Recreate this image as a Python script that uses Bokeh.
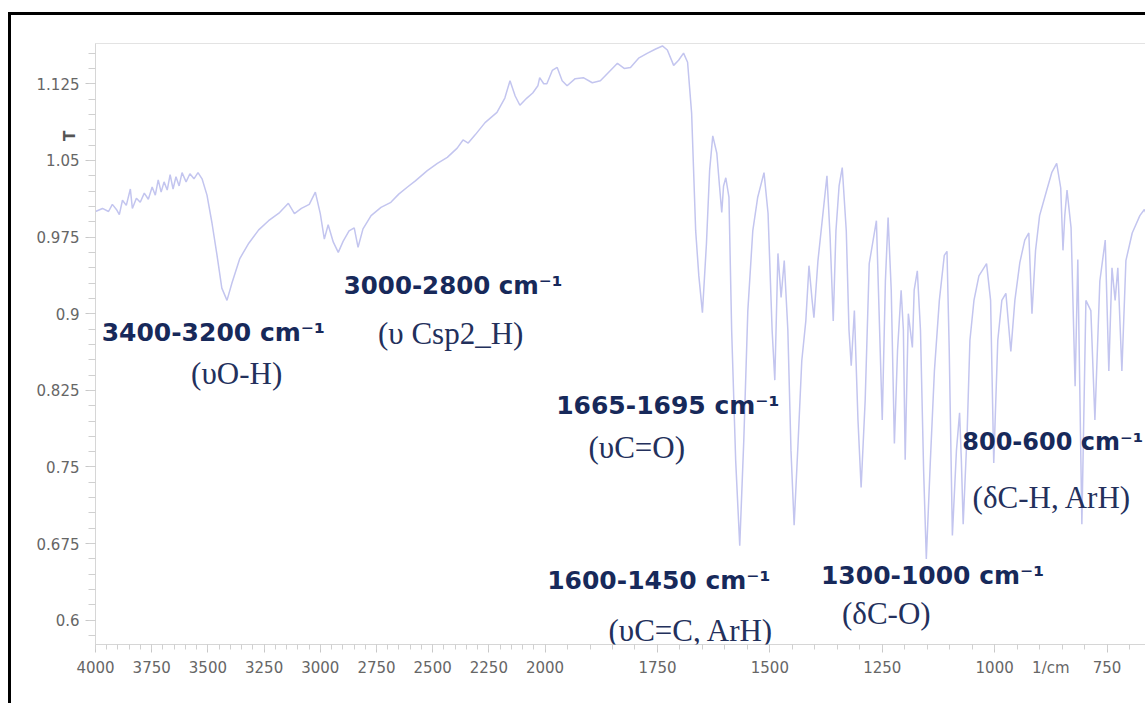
import numpy as np
from bokeh.plotting import figure
from bokeh.models import FixedTicker, Label, CustomJSTickFormatter, LinearAxis
from bokeh.embed import file_html
from bokeh.resources import INLINE

# FT-IR spectrum: wavenumber (cm-1) and transmittance T
wn_high = [4000, 3969, 3942, 3925, 3907, 3894, 3880, 3863, 3845, 3836,
           3818, 3801, 3783, 3765, 3748, 3734, 3721, 3708, 3695, 3681,
           3668, 3655, 3642, 3628, 3615, 3597, 3580, 3562, 3544, 3526,
           3504, 3482, 3460, 3438, 3415, 3393, 3358, 3318, 3274, 3230,
           3181, 3142, 3115, 3084, 3049, 3022, 3000, 2982, 2965, 2942,
           2920, 2898, 2872, 2849, 2832, 2810, 2774, 2730, 2686, 2651,
           2612, 2577, 2524, 2479, 2435, 2391, 2365, 2342, 2311, 2267,
           2214, 2179, 2156, 2133, 2112, 2081, 2055, 2032, 2024, 2006]
t_high = [1.000, 1.003, 1.000, 1.007, 1.002, 0.997, 1.011, 1.006, 1.022, 1.003,
          1.013, 1.009, 1.018, 1.012, 1.024, 1.016, 1.031, 1.019, 1.029, 1.021,
          1.036, 1.022, 1.034, 1.025, 1.038, 1.029, 1.037, 1.032, 1.038, 1.032,
          1.016, 0.989, 0.958, 0.925, 0.913, 0.930, 0.954, 0.969, 0.982, 0.991,
          0.999, 1.008, 0.998, 1.003, 1.007, 1.019, 0.998, 0.973, 0.987, 0.970,
          0.960, 0.971, 0.981, 0.984, 0.965, 0.983, 0.996, 1.004, 1.009, 1.017,
          1.024, 1.030, 1.040, 1.047, 1.053, 1.062, 1.070, 1.067, 1.075, 1.087,
          1.097, 1.111, 1.128, 1.113, 1.104, 1.111, 1.116, 1.123, 1.131, 1.125]

wn_low = [1996, 1984, 1973, 1962, 1951, 1933, 1915, 1895, 1877, 1859,
          1839, 1824, 1810, 1792, 1772, 1754, 1739, 1728, 1714, 1703,
          1692, 1683, 1674, 1665, 1658, 1650, 1641, 1634, 1627, 1618,
          1612, 1607, 1603, 1598, 1591, 1585, 1576, 1567, 1558, 1549,
          1538, 1527, 1513, 1504, 1495, 1489, 1482, 1475, 1468, 1460,
          1453, 1446, 1437, 1429, 1420, 1413, 1406, 1402, 1393, 1386,
          1373, 1366, 1359, 1353, 1346, 1339, 1330, 1324, 1319, 1312,
          1304, 1297, 1288, 1279, 1263, 1250, 1243, 1237, 1230, 1223,
          1216, 1208, 1203, 1199, 1192, 1183, 1179, 1172, 1165, 1158,
          1152, 1143, 1134, 1123, 1112, 1106, 1101, 1094, 1085, 1078,
          1074, 1070, 1061, 1055, 1046, 1035, 1018, 1009, 1002, 993,
          984, 975, 964, 955, 944, 933, 924, 917, 909, 900,
          884, 873, 862, 853, 848, 844, 839, 830, 821, 815,
          806, 797, 786, 777, 766, 754, 746, 739, 732, 726,
          717, 708, 694, 677, 667, 658]
t_low = [1.125, 1.138, 1.141, 1.128, 1.123, 1.130, 1.131, 1.126, 1.128, 1.136,
         1.145, 1.140, 1.141, 1.150, 1.155, 1.159, 1.162, 1.158, 1.143, 1.148,
         1.155, 1.146, 1.096, 0.981, 0.937, 0.901, 0.969, 1.040, 1.074, 1.057,
         1.025, 0.999, 1.025, 1.033, 1.014, 0.884, 0.756, 0.673, 0.776, 0.903,
         0.981, 1.014, 1.038, 0.998, 0.884, 0.835, 0.959, 0.916, 0.952, 0.884,
         0.766, 0.693, 0.776, 0.854, 0.893, 0.947, 0.913, 0.896, 0.952, 0.981,
         1.035, 0.975, 0.893, 0.981, 1.025, 1.043, 0.981, 0.884, 0.849, 0.903,
         0.796, 0.730, 0.815, 0.949, 0.991, 0.796, 0.932, 0.994, 0.923, 0.773,
         0.864, 0.923, 0.884, 0.757, 0.900, 0.867, 0.923, 0.942, 0.884, 0.747,
         0.660, 0.756, 0.844, 0.913, 0.957, 0.961, 0.864, 0.683, 0.766, 0.803,
         0.756, 0.694, 0.786, 0.874, 0.913, 0.937, 0.949, 0.913, 0.754, 0.874,
         0.913, 0.920, 0.863, 0.913, 0.950, 0.972, 0.979, 0.900, 0.962, 0.996,
         1.021, 1.038, 1.047, 1.023, 0.962, 0.996, 1.021, 0.984, 0.829, 0.953,
         0.694, 0.913, 0.903, 0.796, 0.932, 0.972, 0.844, 0.945, 0.913, 0.945,
         0.844, 0.952, 0.979, 0.996, 1.002, 0.993]

# Axis ticks
x_major_wn = [4000, 3750, 3500, 3250, 3000, 2750, 2500, 2250, 2000,
              1750, 1500, 1250, 1000, 750]
x_minor_wn = list(range(4000, 649, -50))
y_major = [0.6, 0.675, 0.75, 0.825, 0.9, 0.975, 1.05, 1.125]
y_minor = [round(0.585 + 0.015 * k, 3) for k in range(39)]

# Axis titles and where they sit along their axes
y_title, y_title_at = "T", 1.079
x_title, x_title_at = "1/cm", 875

# Band assignments: (bold range, x wn, y T) and (mode, x wn, y T)
band_ranges = ["3400-3200 cm\u207b\u00b9", "3000-2800 cm\u207b\u00b9",
               "1665-1695 cm\u207b\u00b9", "1600-1450 cm\u207b\u00b9",
               "1300-1000 cm\u207b\u00b9", "800-600 cm\u207b\u00b9"]
band_range_wn = [3476, 2409, 1727, 1747, 1138, 1072]
band_range_t = [0.882, 0.928, 0.810, 0.639, 0.644, 0.774]
band_range_align = ["center", "center", "center", "center", "center", "left"]
band_range_size = ["25px", "24.5px", "25px", "25px", "25px", "24px"]

band_modes = ["(\u03c5O-H)", "(\u03c5 Csp2_H)", "(\u03c5C=O)",
              "(\u03c5C=C, ArH)", "(\u03b4C-O)", "(\u03b4C-H, ArH)"]
band_mode_wn = [3372, 2420, 1796, 1675, 1241, 872]
band_mode_t = [0.841, 0.881, 0.769, 0.590, 0.607, 0.720]


def axis_pos(v):
    """Wavenumber -> axis position; the region below 2000 cm-1 is shown at 2x scale."""
    v = np.asarray(v, dtype=float)
    return np.where(v >= 2000, (4000.0 - v) / 2.0, 1000.0 + (2000.0 - v))


p = figure(width=1137, height=691, x_range=(0, 2340), y_range=(0.5763, 1.1644),
           output_backend="svg", toolbar_location=None,
           min_border_left=84, min_border_right=1, min_border_top=28,
           min_border_bottom=62)
p.styles = {"margin-left": "8px", "margin-top": "12px",
            "border-left": "3px solid #000", "border-top": "3px solid #000"}
p.background_fill_color = "white"
p.border_fill_color = "white"
p.grid.visible = False
p.outline_line_color = "#e3e3e3"

wn_all = wn_high + wn_low
t_all = t_high + t_low
p.line(x=axis_pos(wn_all), y=t_all, line_color="#c3c5ef", line_width=1.5)

# x axis
p.xaxis.ticker = FixedTicker(ticks=[float(t) for t in axis_pos(x_major_wn)],
                             minor_ticks=[float(t) for t in axis_pos(x_minor_wn)])
p.xaxis.formatter = CustomJSTickFormatter(code="""
    const v = tick <= 1000 ? 4000 - 2 * tick : 2000 - (tick - 1000);
    return Math.round(v).toString();
""")
# y axis
p.yaxis.ticker = FixedTicker(ticks=y_major, minor_ticks=y_minor)
p.yaxis.formatter = CustomJSTickFormatter(code="return parseFloat(tick.toFixed(3)).toString();")

for ax in (p.xaxis[0], p.yaxis[0]):
    ax.axis_line_color = "#d6d6d6"
    ax.major_tick_line_color = "#c8c8c8"
    ax.minor_tick_line_color = "#d0d0d0"
    ax.major_label_text_color = "#666666"
    ax.major_label_text_font = "DejaVu Sans"
    ax.major_label_text_font_size = "15px"
p.xaxis.major_tick_in = 0
p.xaxis.major_tick_out = 8
p.xaxis.minor_tick_in = 0
p.xaxis.minor_tick_out = 5
p.xaxis.major_label_standoff = 8
p.yaxis.major_tick_in = 0
p.yaxis.major_tick_out = 10
p.yaxis.minor_tick_in = 0
p.yaxis.minor_tick_out = 7
p.yaxis.major_label_standoff = 6

# axis titles drawn as lone tick labels of bare axes, pulled into the label rows
t_axis = LinearAxis(ticker=FixedTicker(ticks=[y_title_at]),
                    formatter=CustomJSTickFormatter(code=f"return '{y_title}';"),
                    axis_line_color=None, major_tick_line_color=None,
                    minor_tick_line_color=None, major_tick_out=0, major_tick_in=0,
                    major_label_orientation=np.pi / 2, major_label_standoff=-37,
                    major_label_text_font="DejaVu Sans",
                    major_label_text_font_style="bold",
                    major_label_text_font_size="15px",
                    major_label_text_color="#555555")
p.add_layout(t_axis, "left")
u_axis = LinearAxis(ticker=FixedTicker(ticks=[float(axis_pos(x_title_at))]),
                    formatter=CustomJSTickFormatter(code=f"return '{x_title}';"),
                    axis_line_color=None, major_tick_line_color=None,
                    minor_tick_line_color=None, major_tick_out=0, major_tick_in=0,
                    major_label_standoff=-17,
                    major_label_text_font="DejaVu Sans",
                    major_label_text_font_size="15px",
                    major_label_text_color="#666666")
p.add_layout(u_axis, "below")

# band annotations
for txt, wn, t, al, fs in zip(band_ranges, band_range_wn, band_range_t,
                              band_range_align, band_range_size):
    p.add_layout(Label(x=float(axis_pos(wn)), y=t, text=txt, text_align=al,
                       text_baseline="middle", text_font="DejaVu Sans",
                       text_font_style="bold", text_font_size=fs,
                       text_color="#17295a"))
for txt, wn, t in zip(band_modes, band_mode_wn, band_mode_t):
    p.add_layout(Label(x=float(axis_pos(wn)), y=t, text=txt, text_align="center",
                       text_baseline="middle", text_font="Liberation Serif",
                       text_font_size="31px", text_color="#23305c"))

open("out.html", "w").write(file_html(p, INLINE))
